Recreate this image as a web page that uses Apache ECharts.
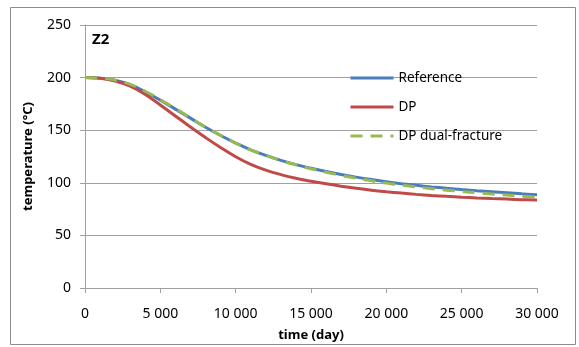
<!DOCTYPE html>
<html>
<head>
<meta charset="utf-8">
<script src="https://cdn.jsdelivr.net/npm/echarts@6/dist/echarts.min.js"></script>
<style>
  html, body { margin: 0; padding: 0; background: #fff; }
  #chart { width: 579px; height: 347px; }
</style>
</head>
<body>
<div id="chart"></div>
<script>
// time axis (day), one point every 1000 days
const days = [0, 1000, 2000, 3000, 4000, 5000, 6000, 7000, 8000, 9000, 10000,
  11000, 12000, 13000, 14000, 15000, 16000, 17000, 18000, 19000, 20000,
  21000, 22000, 23000, 24000, 25000, 26000, 27000, 28000, 29000, 30000];

// temperature (°C)
const reference = [200, 199.5, 197.5, 193.2, 186.5, 178.5, 170, 161.5, 152.8, 145, 137.8,
  131.3, 126, 121.3, 117.3, 113.8, 110.7, 107.9, 105.4, 103.1, 101,
  99.2, 97.6, 96.1, 94.8, 93.6, 92.5, 91.5, 90.5, 89.5, 88.6];
const dp = [200, 199.3, 196.8, 191.8, 184, 174, 163.5, 153, 143, 133.5, 124.8,
  117.5, 112, 107.8, 104.3, 101.5, 99, 96.8, 94.8, 93, 91.5,
  90.2, 89, 88, 87.1, 86.3, 85.6, 85, 84.5, 84, 83.6];
const dpDual = [200, 199.5, 197.6, 193.5, 187, 179, 170.5, 161.8, 153, 145.2, 137.8,
  131.3, 126, 121.2, 117.1, 113.3, 110, 107, 104.3, 101.9, 99.7,
  97.8, 96, 94.4, 93, 91.7, 90.5, 89.4, 88.3, 87.3, 86.3];

const seriesNames = ['Reference', 'DP', 'DP dual-fracture'];
const xTicks = [0, 5000, 10000, 15000, 20000, 25000, 30000];
const yTicks = [0, 50, 100, 150, 200, 250];

const font = 'Noto Sans';
const pairs = arr => days.map((d, i) => [d, arr[i]]);

const chart = echarts.init(document.getElementById('chart'));

const option = {
  animation: false,
  textStyle: { fontFamily: font },
  grid: { left: 85, right: 42, top: 25, bottom: 54.5 },
  graphic: [
    {
      type: 'rect',
      shape: { x: 10.5, y: 7.5, width: 565, height: 337 },
      style: { fill: 'none', stroke: '#8c8c8c', lineWidth: 1 },
      silent: true
    },
    {
      type: 'text',
      left: 92, top: 32,
      style: { text: 'Z2', font: 'bold 15px "Noto Sans"', fill: '#000' }
    }
  ],
  legend: {
    orient: 'vertical',
    left: 349,
    top: 71,
    padding: 0,
    itemWidth: 43,
    itemHeight: 14,
    itemGap: 15,
    itemStyle: { opacity: 0 },
    lineStyle: { width: 3 },
    textStyle: { fontFamily: font, fontSize: 13.5, color: '#000' },
    data: seriesNames
  },
  xAxis: {
    type: 'value',
    min: 0, max: 30000, interval: 5000,
    name: 'time (day)',
    nameLocation: 'middle',
    nameGap: 41,
    nameTextStyle: { fontFamily: font, fontSize: 13, fontWeight: 'bold', color: '#000' },
    axisLine: { lineStyle: { color: '#a0a0a0', width: 1 } },
    axisTick: { show: true, length: 5, lineStyle: { color: '#a0a0a0' } },
    axisLabel: {
      margin: 19,
      fontFamily: font, fontSize: 14, color: '#000',
      formatter: v => xTicks.includes(v) ? String(v).replace(/\B(?=(\d{3})+(?!\d))/g, ' ') : ''
    },
    splitLine: { show: false }
  },
  yAxis: {
    type: 'value',
    min: 0, max: 250, interval: 50,
    name: 'temperature (°C)',
    nameLocation: 'middle',
    nameRotate: 90,
    nameGap: 50,
    nameTextStyle: { fontFamily: font, fontSize: 13, fontWeight: 'bold', color: '#000' },
    axisLine: { show: true, lineStyle: { color: '#a0a0a0', width: 1 } },
    axisTick: { show: true, length: 5, lineStyle: { color: '#a0a0a0' } },
    axisLabel: {
      margin: 14,
      fontFamily: font, fontSize: 14, color: '#000',
      formatter: v => yTicks.includes(v) ? String(v) : ''
    },
    splitLine: { show: true, lineStyle: { color: '#a0a0a0', width: 1 } }
  },
  series: [
    {
      name: seriesNames[0],
      type: 'line',
      smooth: 0.4,
      symbol: 'none',
      data: pairs(reference),
      lineStyle: { color: '#4a7ebb', width: 3 },
      itemStyle: { color: '#4a7ebb' },
      z: 2
    },
    {
      name: seriesNames[1],
      type: 'line',
      smooth: 0.4,
      symbol: 'none',
      data: pairs(dp),
      lineStyle: { color: '#be4b48', width: 3 },
      itemStyle: { color: '#be4b48' },
      z: 3
    },
    {
      name: seriesNames[2],
      type: 'line',
      smooth: 0.4,
      symbol: 'none',
      data: pairs(dpDual),
      lineStyle: { color: '#98b954', width: 3, type: [12, 8] },
      itemStyle: { color: '#98b954' },
      z: 4
    }
  ]
};

chart.setOption(option);
</script>
</body>
</html>
